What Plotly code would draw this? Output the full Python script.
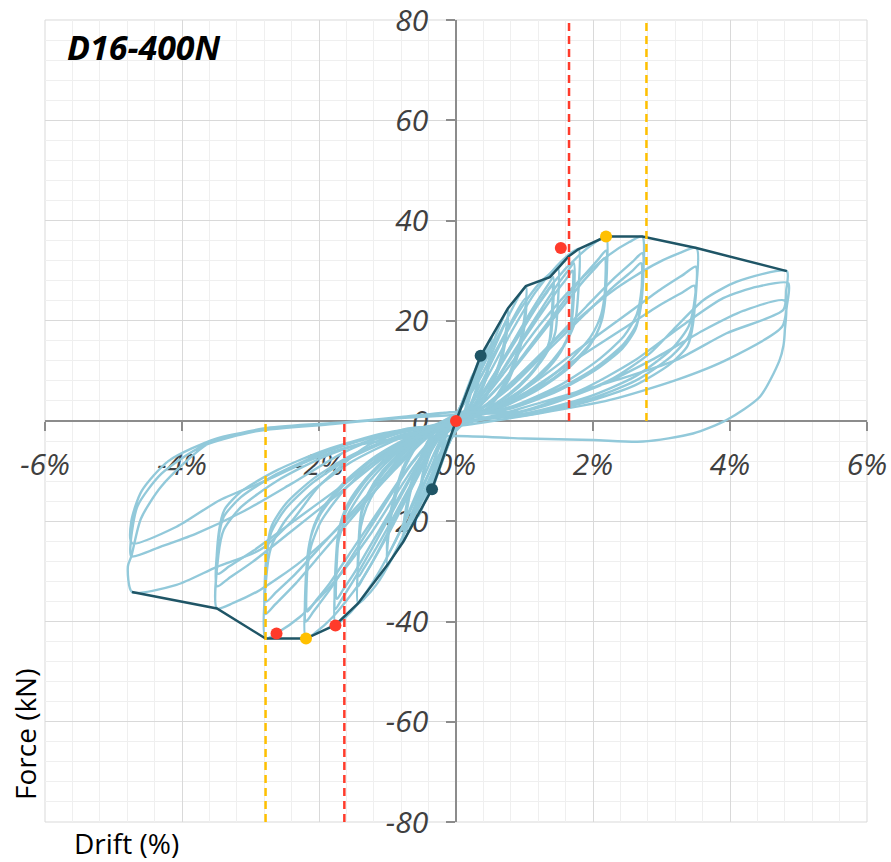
import plotly.graph_objects as go

# ---------------- data (drift in %, force in kN) ----------------
drift_L01 = [0, 0.1, 0.2, 0.17, 0.09, 0, -0.1, -0.2, -0.17, -0.09, 0]
force_L01 = [0, 3.8, 7.5, 4.1, 0.9, -1, -4, -8, -4.4, -1, 0.8]

drift_L02 = [0, 0.12, 0.25, 0.21, 0.11, 0, -0.12, -0.25, -0.21, -0.11, 0]
force_L02 = [0.8, 4.8, 9.5, 5.2, 1.1, -1.2, -5, -10, -5.5, -1.2, 0.8]

drift_L03 = [0, 0.18, 0.36, 0.31, 0.16, 0, -0.17, -0.35, -0.3, -0.16, 0,
             0.18, 0.36, 0.31, 0.16, 0, -0.17, -0.35, -0.3, -0.16, 0]
force_L03 = [0.8, 6.5, 13, 7.2, 1.6, -1.5, -6.8, -13.6, -7.5, -1.6, 1,
             6, 12, 6.6, 1.4, -1.5, -6.2, -12.5, -6.9, -1.5, 1]

drift_L04 = [0, 0.26, 0.52, 0.44, 0.23, 0, -0.27, -0.55, -0.47, -0.25, 0,
             0.26, 0.52, 0.44, 0.23, 0, -0.27, -0.55, -0.47, -0.25, 0]
force_L04 = [1, 8.4, 16.8, 9.2, 2, -1.8, -9.5, -19, -10.5, -2.3, 1.2,
             7.5, 15.5, 8.5, 1.9, -1.8, -8.5, -17.5, -9.6, -2.1, 1.2]

drift_L05 = [0, 0.38, 0.76, 0.65, 0.34, 0, -0.38, -0.77, -0.65, -0.35, 0,
             0.38, 0.76, 0.65, 0.34, 0, -0.38, -0.77, -0.65, -0.35, 0]
force_L05 = [1.2, 10.5, 22.5, 12.4, 2.7, -2, -11.5, -24.1, -13.3, -2.9, 1.3,
             9.2, 20.5, 11.3, 2.5, -2, -10, -22, -12.1, -2.6, 1.3]

drift_L06 = [0, 0.3, 0.6, 1.02, 0.97, 0.78, 0.45, 0, -0.3, -0.6, -1.0, -0.96, -0.77, -0.45, 0,
             0.3, 0.6, 1.02, 0.97, 0.78, 0.45, 0, -0.3, -0.6, -1.0, -0.96, -0.77, -0.45, 0]
force_L06 = [1.3, 8.5, 16.5, 26.9, 18, 9.5, 2.5, -1.5, -9, -18, -28.7, -20, -10, -2.6, 1.4,
             7.5, 14.5, 24.5, 16.5, 8.5, 2.2, -1.5, -8, -16, -26.5, -18.5, -9.2, -2.4, 1.4]

drift_L07 = [0, 0.15, 0.37, 0.67, 0.97, 1.22, 1.39, 1.49,
             1.48, 1.45, 1.34, 1.12, 0.82, 0.45, 0.15, 0,
             -0.14, -0.36, -0.64, -0.93, -1.17, -1.33, -1.43,
             -1.42, -1.39, -1.29, -1.07, -0.79, -0.43, -0.14, 0,
             0.14, 0.43, 0.71, 0.99, 1.21, 1.35, 1.42,
             1.41, 1.38, 1.28, 1.07, 0.78, 0.43, 0.14, 0,
             -0.14, -0.43, -0.72, -1.0, -1.22, -1.36, -1.43,
             -1.42, -1.39, -1.29, -1.07, -0.79, -0.43, -0.14, 0,
             0.14, 0.42, 0.7, 0.98, 1.19, 1.33, 1.4,
             1.39, 1.36, 1.26, 1.05, 0.77, 0.42, 0.14, 0,
             -0.14, -0.43, -0.71, -0.99, -1.21, -1.35, -1.42,
             -1.41, -1.38, -1.28, -1.07, -0.78, -0.43, -0.14, 0]
force_L07 = [1.0, 2.1, 7.6, 15.9, 22.9, 27.5, 29.6, 30.5,
             22, 17.7, 14, 9.8, 5.8, 2.4, 0.9, -1.0,
             -2.5, -9.1, -18.9, -27.3, -32.8, -35.3, -36.4,
             -26.2, -21.1, -16.7, -11.6, -6.9, -2.9, -1.1, 1.0,
             1.4, 6.3, 12.9, 19.5, 24.4, 27.3, 28.7,
             20.7, 16.6, 13.2, 9.2, 5.5, 2.3, 0.9, -1.0,
             -1.7, -7.3, -14.9, -22.4, -28.1, -31.4, -33,
             -23.8, -19.1, -15.2, -10.6, -6.3, -2.6, -1.0, 1.0,
             1.4, 5.9, 12.2, 18.4, 23, 25.7, 27,
             19.4, 15.7, 12.4, 8.6, 5.1, 2.2, 0.8, -1.0,
             -1.6, -6.8, -14, -21.1, -26.4, -29.5, -31,
             -22.3, -18, -14.3, -9.9, -5.9, -2.5, -0.9, 1.0]

drift_L08 = [0, 0.18, 0.45, 0.81, 1.16, 1.47, 1.66, 1.79,
             1.78, 1.74, 1.61, 1.34, 0.98, 0.54, 0.18, 0,
             -0.18, -0.44, -0.79, -1.14, -1.44, -1.64, -1.76,
             -1.75, -1.71, -1.58, -1.32, -0.97, -0.53, -0.18, 0,
             0.17, 0.52, 0.86, 1.2, 1.46, 1.63, 1.72,
             1.71, 1.67, 1.55, 1.29, 0.95, 0.52, 0.17, 0,
             -0.18, -0.53, -0.88, -1.23, -1.5, -1.67, -1.76,
             -1.75, -1.71, -1.58, -1.32, -0.97, -0.53, -0.18, 0,
             0.17, 0.51, 0.85, 1.19, 1.45, 1.62, 1.7,
             1.69, 1.65, 1.53, 1.28, 0.94, 0.51, 0.17, 0,
             -0.17, -0.52, -0.87, -1.22, -1.48, -1.65, -1.74,
             -1.73, -1.69, -1.57, -1.31, -0.96, -0.52, -0.17, 0]
force_L08 = [1.0, 2.4, 8.6, 17.8, 25.7, 30.9, 33.3, 34.3,
             24.7, 19.9, 15.8, 11, 6.5, 2.7, 1, -1.0,
             -2.8, -10.2, -21.2, -30.5, -36.6, -39.5, -40.7,
             -29.3, -23.6, -18.7, -13, -7.7, -3.3, -1.2, 1.0,
             1.6, 6.9, 14.2, 21.4, 26.8, 29.9, 31.5,
             22.7, 18.3, 14.5, 10.1, 6, 2.5, 0.9, -1.0,
             -1.9, -8.3, -16.9, -25.5, -31.9, -35.6, -37.5,
             -27, -21.8, -17.3, -12, -7.1, -3, -1.1, 1.0,
             1.5, 6.6, 13.5, 20.4, 25.5, 28.5, 30,
             21.6, 17.4, 13.8, 9.6, 5.7, 2.4, 0.9, -1.0,
             -1.8, -7.8, -16, -24.1, -30.2, -33.7, -35.5,
             -25.6, -20.6, -16.3, -11.4, -6.7, -2.8, -1.1, 1.0]

drift_L09 = [0, 0.22, 0.55, 0.99, 1.42, 1.8, 2.04, 2.19,
             2.18, 2.12, 1.97, 1.64, 1.2, 0.66, 0.22, 0,
             -0.22, -0.55, -0.99, -1.42, -1.8, -2.04, -2.19,
             -2.18, -2.12, -1.97, -1.64, -1.2, -0.66, -0.22, 0,
             0.22, 0.66, 1.1, 1.53, 1.86, 2.08, 2.19,
             2.18, 2.12, 1.97, 1.64, 1.2, 0.66, 0.22, 0,
             -0.22, -0.66, -1.1, -1.53, -1.86, -2.08, -2.19,
             -2.18, -2.12, -1.97, -1.64, -1.2, -0.66, -0.22, 0,
             0.22, 0.65, 1.09, 1.52, 1.84, 2.06, 2.17,
             2.16, 2.1, 1.95, 1.63, 1.19, 0.65, 0.22, 0,
             -0.22, -0.65, -1.09, -1.52, -1.84, -2.06, -2.17,
             -2.16, -2.1, -1.95, -1.63, -1.19, -0.65, -0.22, 0]
force_L09 = [1.0, 2.6, 9.2, 19.1, 27.6, 33.1, 35.7, 36.8,
             26.5, 21.3, 16.9, 11.8, 7, 2.9, 1.1, -1.0,
             -3, -10.9, -22.6, -32.6, -39.1, -42.1, -43.4,
             -31.2, -25.2, -20, -13.9, -8.2, -3.5, -1.3, 1.0,
             1.7, 7.5, 15.3, 23.1, 28.9, 32.3, 34,
             24.5, 19.7, 15.6, 10.9, 6.5, 2.7, 1, -1.0,
             -2, -8.8, -18, -27.2, -34, -38, -40,
             -28.8, -23.2, -18.4, -12.8, -7.6, -3.2, -1.2, 1.0,
             1.6, 7.2, 14.6, 22.1, 27.6, 30.9, 32.5,
             23.4, 18.9, 15, 10.4, 6.2, 2.6, 1, -1.0,
             -1.9, -8.4, -17.1, -25.8, -32.3, -36.1, -38,
             -27.4, -22, -17.5, -12.2, -7.2, -3, -1.1, 1.0]

drift_L10 = [0, 0.27, 0.68, 1.22, 1.77, 2.23, 2.53, 2.72,
             2.71, 2.64, 2.45, 2.04, 1.5, 0.82, 0.27, 0,
             -0.28, -0.7, -1.25, -1.81, -2.28, -2.59, -2.78,
             -2.77, -2.7, -2.5, -2.09, -1.53, -0.83, -0.28, 0,
             0.27, 0.82, 1.36, 1.9, 2.31, 2.58, 2.72,
             2.71, 2.64, 2.45, 2.04, 1.5, 0.82, 0.27, 0,
             -0.28, -0.83, -1.39, -1.95, -2.36, -2.64, -2.78,
             -2.77, -2.7, -2.5, -2.09, -1.53, -0.83, -0.28, 0,
             0.27, 0.81, 1.35, 1.89, 2.3, 2.57, 2.7,
             2.69, 2.62, 2.43, 2.03, 1.49, 0.81, 0.27, 0,
             -0.28, -0.83, -1.39, -1.94, -2.35, -2.63, -2.77,
             -2.76, -2.69, -2.49, -2.08, -1.52, -0.83, -0.28, 0]
force_L10 = [1.0, 2.6, 9.2, 19.1, 27.6, 33.1, 35.7, 36.8,
             26.5, 21.3, 16.9, 11.8, 7, 2.9, 1.1, -1.0,
             -3, -10.9, -22.6, -32.6, -39.1, -42.1, -43.4,
             -31.2, -25.2, -20, -13.9, -8.2, -3.5, -1.3, 1.0,
             1.7, 7.4, 15.1, 22.8, 28.5, 31.8, 33.5,
             24.1, 19.4, 15.4, 10.7, 6.4, 2.7, 1, -1.0,
             -1.9, -8.5, -17.3, -26.2, -32.7, -36.6, -38.5,
             -27.7, -22.3, -17.7, -12.3, -7.3, -3.1, -1.2, 1.0,
             1.6, 6.9, 14.2, 21.4, 26.8, 29.9, 31.5,
             22.7, 18.3, 14.5, 10.1, 6, 2.5, 0.9, -1.0,
             -1.8, -7.9, -16.2, -24.5, -30.6, -34.2, -36,
             -25.9, -20.9, -16.6, -11.5, -6.8, -2.9, -1.1, 1.0]

drift_L11 = [0, 0.35, 0.88, 1.58, 2.28, 2.88, 3.26, 3.51,
             3.49, 3.4, 3.16, 2.63, 1.93, 1.05, 0.35, 0,
             -0.35, -0.87, -1.57, -2.27, -2.86, -3.25, -3.49,
             -3.47, -3.39, -3.14, -2.62, -1.92, -1.05, -0.35, 0,
             0.35, 1.05, 1.75, 2.45, 2.98, 3.33, 3.5,
             3.48, 3.4, 3.15, 2.63, 1.93, 1.05, 0.35, 0,
             -0.35, -1.05, -1.75, -2.44, -2.97, -3.32, -3.49,
             -3.47, -3.39, -3.14, -2.62, -1.92, -1.05, -0.35, 0,
             0.35, 1.04, 1.74, 2.44, 2.96, 3.31, 3.48,
             3.46, 3.38, 3.13, 2.61, 1.91, 1.04, 0.35, 0,
             -0.35, -1.04, -1.74, -2.44, -2.96, -3.31, -3.48,
             -3.46, -3.38, -3.13, -2.61, -1.91, -1.04, -0.35, 0]
force_L11 = [1.0, 2.4, 8.6, 17.9, 25.9, 31.1, 33.5, 34.5,
             24.8, 19, 14.5, 9, 4.8, 1.6, 0.4, -1.0,
             -2.6, -9.4, -19.4, -28.1, -33.7, -36.3, -37.4,
             -26.9, -21.7, -17.2, -12, -7.1, -3, -1.1, 1.0,
             1.5, 6.8, 13.9, 20.9, 26.2, 29.3, 30.8,
             22.2, 17, 13, 8.1, 4.3, 1.4, 0.3, -1.0,
             -1.7, -7.3, -14.9, -22.4, -28.1, -31.4, -33,
             -23.8, -19.1, -15.2, -10.6, -6.3, -2.6, -1, 1.0,
             1.4, 5.9, 12.2, 18.4, 23, 25.7, 27,
             19.4, 15, 11.4, 7.1, 3.8, 1.2, 0.2, -1.0,
             -1.5, -6.7, -13.7, -20.7, -25.9, -29, -30.5,
             -22, -17.7, -14, -9.8, -5.8, -2.4, -0.9, 1.0]

drift_L12 = [0, 0.6, 1.4, 2.25, 2.83, 3.17, 3.61, 4.1, 4.83,
             4.82, 4.78, 3.95, 3.22, 2.49, 1.52, 0.6, 0,
             -0.6, -1.3, -2.0, -2.4, -2.86, -3.49, -4.08, -4.73,
             -4.79, -4.74, -4.6, -4.3, -3.6, -2.76, -1.65, -0.8, 0,
             0.8, 1.8, 2.6, 3.3, 3.9, 4.4, 4.85,
             4.83, 4.76, 3.95, 3.22, 2.25, 1.2, 0,
             -0.7, -1.6, -2.4, -3.1, -3.8, -4.3, -4.74,
             -4.75, -4.65, -4.3, -3.7, -2.9, -1.8, -0.9, 0,
             1, 2, 2.9, 3.6, 4.2, 4.8,
             4.8, 4.78, 4.72, 4.44, 3.95, 3.46, 2.73, 2.0, 1.0, 0,
             -0.8, -1.55, -2.13, -2.76, -3.45, -4.08, -4.73,
             -4.74, -4.59, -4.2, -3.5, -2.7, -1.6, -0.8, 0]
force_L12 = [1.0, 0.8, 3.5, 8.2, 13.5, 18.2, 24.1, 27.8, 29.9,
             26, 22.2, 17.5, 12.2, 8.8, 4.8, 1.2, -0.5,
             -1.5, -5, -13, -20, -25.7, -29.1, -32.7, -34.1,
             -29, -27, -19.5, -13, -4.4, -1.4, -0.3, 0.8, 1.8,
             1.5, 6, 12, 19, 24.5, 26.8, 27.5,
             23, 18.8, 12.2, 8.2, 4.2, 1.5, -1,
             -1.5, -6, -12.5, -18, -22.5, -25, -27,
             -24.4, -17, -10.5, -5, -2, -0.6, 0.6, 1.8,
             2, 6.5, 12.5, 18, 22, 24,
             18, 15, 12, 4.9, 0.2, -2.5, -4.1, -3.8, -3.5, -3,
             -3.5, -5.1, -7.8, -11.8, -15.8, -21.1, -24.4,
             -20, -14, -8, -3.5, -1.5, -0.3, 0.6, 1.2]

# backbone (envelope) curve
env_drift = [-4.73, -3.49, -2.78, -2.19, -1.76, -1.43, -1.0, -0.77, -0.35, 0,
             0.36, 0.52, 0.76, 1.02, 1.37, 1.49, 1.64, 1.79, 2.19, 2.72, 3.51, 4.83]
env_force = [-34.1, -37.4, -43.4, -43.4, -40.7, -36.4, -28.7, -24.1, -13.6, 0,
             13, 16.8, 22.5, 26.9, 28.7, 30.5, 32.8, 34.3, 36.8, 36.8, 34.5, 29.9]

# marker points
dark_drift = [0.36, -0.35]
dark_force = [13.0, -13.6]
red_drift = [0, 1.53, -2.62, -1.76]
red_force = [0, 34.5, -42.4, -40.8]
yellow_drift = [2.19, -2.19]
yellow_force = [36.8, -43.4]

# vertical dashed reference lines
red_pos_x = [1.65, 1.65]
red_pos_y = [0, 80]
red_neg_x = [-1.63, -1.63]
red_neg_y = [-80, 0]
yel_pos_x = [2.78, 2.78]
yel_pos_y = [0, 80]
yel_neg_x = [-2.78, -2.78]
yel_neg_y = [-80, 0]

x_tick_vals = [-6, -4, -2, 0, 2, 4, 6]
x_tick_text = ["-6%", "-4%", "-2%", "0%", "2%", "4%", "6%"]
y_tick_vals = [-80, -60, -40, -20, 0, 20, 40, 60, 80]
y_tick_text = ["-80", "-60", "-40", "-20", "0", "20", "40", "60", "80"]

# ---------------- figure ----------------
LOOP = "#92c9da"
ENV = "#1f5566"
RED = "#ff3b2b"
YEL = "#ffc000"
FONT = "Open Sans, Liberation Sans, sans-serif"

fig = go.Figure()

levels = [(drift_L01, force_L01), (drift_L02, force_L02), (drift_L03, force_L03),
          (drift_L04, force_L04), (drift_L05, force_L05), (drift_L06, force_L06),
          (drift_L07, force_L07), (drift_L08, force_L08), (drift_L09, force_L09),
          (drift_L10, force_L10), (drift_L11, force_L11), (drift_L12, force_L12)]
for dx, fy in levels:
    fig.add_trace(go.Scatter(x=dx, y=fy, mode="lines",
                             line=dict(color=LOOP, width=2.4, shape="spline", smoothing=0.7),
                             hoverinfo="skip"))

fig.add_trace(go.Scatter(x=env_drift, y=env_force, mode="lines",
                         line=dict(color=ENV, width=2.5)))

for xs, ys, col in [(red_pos_x, red_pos_y, RED), (red_neg_x, red_neg_y, RED),
                    (yel_pos_x, yel_pos_y, YEL), (yel_neg_x, yel_neg_y, YEL)]:
    fig.add_trace(go.Scatter(x=xs, y=ys, mode="lines",
                             line=dict(color=col, width=2.5, dash="8px,5px")))

fig.add_trace(go.Scatter(x=dark_drift, y=dark_force, mode="markers",
                         marker=dict(color=ENV, size=12)))
fig.add_trace(go.Scatter(x=red_drift, y=red_force, mode="markers",
                         marker=dict(color=RED, size=12)))
fig.add_trace(go.Scatter(x=yellow_drift, y=yellow_force, mode="markers",
                         marker=dict(color=YEL, size=12)))

tick_font = dict(family=FONT, size=30, color="#404040", style="italic")
AXC = "#8c8c8c"

common_axis = dict(showgrid=True, gridcolor="#d9d9d9", gridwidth=1,
                   zeroline=False, showline=True, linecolor=AXC, linewidth=1.5,
                   ticks="outside", ticklen=9, tickwidth=1.5, tickcolor=AXC,
                   anchor="free", position=0.5, tickfont=tick_font,
                   layer="below traces", automargin=False, ticklabeloverflow="allow")

fig.update_layout(
    width=891, height=862,
    margin=dict(l=45, r=24, t=20, b=40),
    paper_bgcolor="white", plot_bgcolor="white",
    showlegend=False,
    xaxis=dict(range=[-6, 6], tickmode="array", tickvals=x_tick_vals, ticktext=x_tick_text,
               minor=dict(dtick=0.4, tick0=0, showgrid=True, gridcolor="#efefef", gridwidth=1),
               ticklabelstandoff=8, **common_axis),
    yaxis=dict(range=[-80, 80], tickmode="array", tickvals=y_tick_vals, ticktext=y_tick_text,
               minor=dict(dtick=4, tick0=0, showgrid=True, gridcolor="#efefef", gridwidth=1),
               ticklabelstandoff=12, **common_axis),
    shapes=[dict(type="rect", xref="paper", yref="paper", x0=0, x1=1, y0=0, y1=1,
                 line=dict(color="#d9d9d9", width=1), layer="below")],
    annotations=[
        dict(text="<b><i>D16-400N</i></b>", xref="paper", yref="paper",
             x=0.024, y=0.966, xanchor="left", yanchor="middle", showarrow=False,
             font=dict(family=FONT, size=34, color="#000000")),
        dict(text="Force (kN)", xref="paper", yref="paper", textangle=-90,
             x=-0.0243, y=0.1085, xanchor="center", yanchor="middle", showarrow=False,
             font=dict(family=FONT, size=28, color="#000000")),
        dict(text="Drift (%)", xref="paper", yref="paper",
             x=0.0991, y=-0.0262, xanchor="center", yanchor="middle", showarrow=False,
             font=dict(family=FONT, size=28, color="#000000")),
    ],
)

fig.write_html("out.html",
               config={"displayModeBar": False},
               post_script="document.body.style.margin='0';document.body.style.overflow='hidden';")
